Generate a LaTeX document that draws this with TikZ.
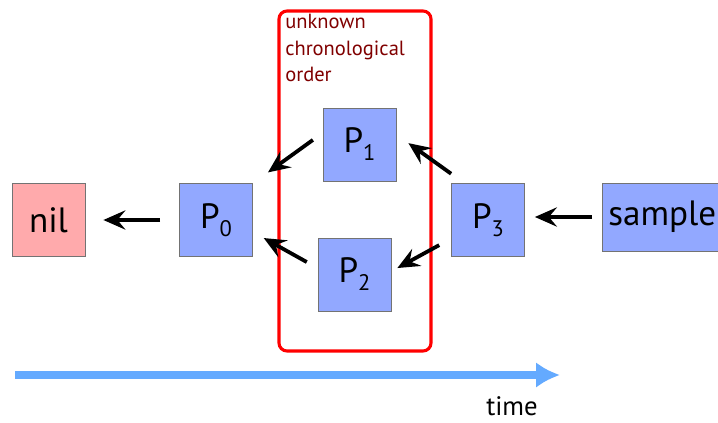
\documentclass[tikz,border=0pt]{standalone}
\usepackage{fontspec}
\setmainfont{PT Sans}
\usetikzlibrary{arrows.meta}
\definecolor{procblue}{RGB}{146,168,255}
\definecolor{nilpink}{RGB}{255,170,172}
\definecolor{timeblue}{RGB}{100,170,255}
\definecolor{notered}{RGB}{128,0,0}
\newcommand\psub[1]{\raisebox{-0.2cm}{\fontsize{16}{16}\selectfont #1}}

\begin{document}
\begin{tikzpicture}[
  box/.style={draw=black!55,minimum width=1.83cm,minimum height=1.82cm,inner sep=0pt,font=\fontsize{25}{30}\selectfont},
  proc/.style={box,fill=procblue},
  link/.style={-{Stealth[length=0.55cm,width=0.48cm,inset=0.2cm]},line width=2.7pt},
  frame/.style={draw=red,line width=2.2pt,rounded corners=0.2cm}
]
\useasboundingbox (0,0) rectangle (17.95,10.55);

\node[box,fill=nilpink] (nil) at (1.2125,5.05) {nil};
\node[proc] (P0) at (5.4,5.05) {P\psub{0}};
\node[proc] (P1) at (8.9875,6.9375) {P\psub{1}};
\node[proc] (P2) at (8.8625,3.6875) {P\psub{2}};
\node[proc] (P3) at (12.2,5.05) {P\psub{3}};
\node[box,fill=procblue,anchor=west,minimum width=3cm,minimum height=1.7cm,inner sep=2pt] (sample) at (15.05,5.125) {sample};

% box round the concurrent steps
\draw[frame] (6.975,1.775) rectangle (10.775,10.275);
\node[anchor=north west,align=left,text=notered,inner sep=0pt,
  font=\fontsize{14.6}{18.8}\selectfont] (note) at (7.125,10.2)
  {unknown\\chronological\\order};

\draw[link,shorten <=0.475cm,shorten >=0.45cm] (P0.west) -- (nil.east);
\draw[link,shorten <=0.3cm,shorten >=0.465cm] ([yshift=0.29cm]P1.west) -- (P0.north east);
\draw[link,shorten <=0.31cm,shorten >=0.31cm] ([yshift=0.16cm]P2.west) -- ([yshift=-0.3cm]P0.east);
\draw[link,shorten >=0.37cm] ([yshift=0.24cm]P3.north west) -- ([yshift=0.25cm]P1.east);
\draw[link,shorten <=0.34cm,shorten >=0.17cm] ([yshift=-0.465cm]P3.west) -- ([yshift=0.08cm]P2.east);
\draw[link,shorten <=0.25cm,shorten >=0.25cm] (sample.west) -- (sample.west -| P3.east);

% time axis
\coordinate (t0) at (0.375,1.175);
\coordinate (t1) at (14.0,1.175);
\draw[timeblue,line width=5.5pt,-{Latex[length=0.6cm,width=0.65cm]}] (t0) -- (t1);
\node[font=\fontsize{19}{22}\selectfont] (time) at (12.8,0.4) {time};
\end{tikzpicture}
\end{document}
